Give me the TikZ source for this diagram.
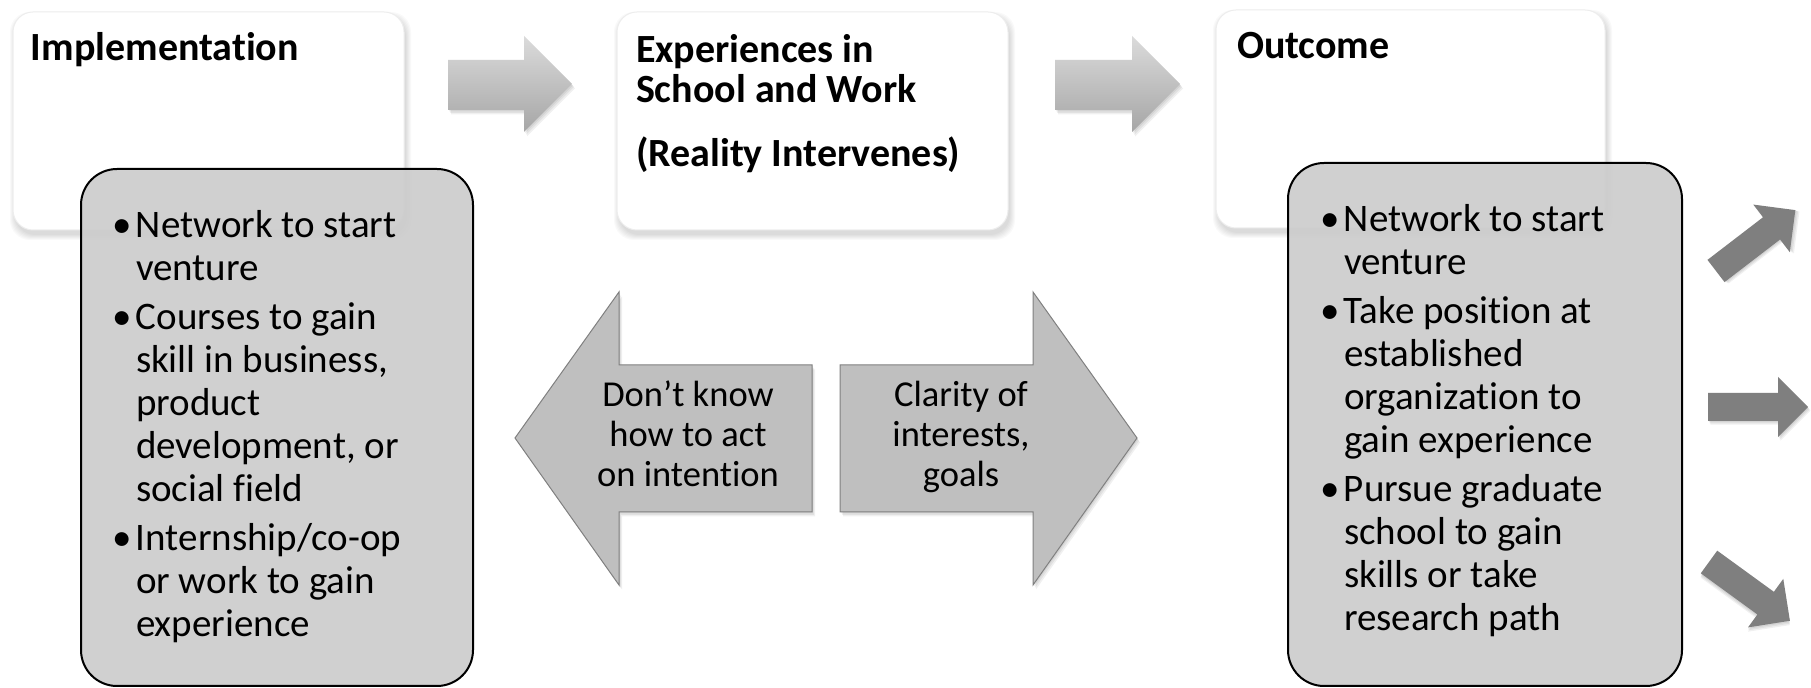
\documentclass[tikz,border=0pt]{standalone}
\usepackage{fontspec}
\setmainfont[Ligatures=NoCommon]{Carlito}
\definecolor{boxgray}{HTML}{CCCCCC}
\definecolor{arrgray}{HTML}{BFBFBF}
\definecolor{arredge}{HTML}{808080}
\definecolor{smallgray}{HTML}{7F7F7F}
\definecolor{gradtop}{HTML}{DBDBDB}
\definecolor{gradbot}{HTML}{A6A6A6}
\newcommand\softshadowbox[4]{%
  \foreach \i in {0,...,5}{\fill[black,opacity=0.022,rounded corners=10pt] (#1-\i+2,#2-\i+5) rectangle (#3+\i+2,#4+\i+5);}}
\tikzset{
  whitebox/.style={draw=black!7, fill=white, rounded corners=10pt, line width=0.5pt},
  graybox/.style={draw=black, fill=boxgray, fill opacity=0.92, rounded corners=18pt, line width=1pt},
  gradarrow/.style={top color=gradtop, bottom color=gradbot, draw=none},
  bigarrow/.style={fill=arrgray, draw=arredge, line width=0.5pt},
  smallarrow/.style={fill=smallgray, draw=none},
  shadowfill/.style={fill=black, opacity=0.06, draw=none},
  txt/.style={inner sep=0pt, outer sep=0pt},
}
\newcommand\bul{\leavevmode\llap{\makebox[12pt][l]{•}}}
\newcommand\bulfont{\fontsize{19.5pt}{21.5pt}\selectfont}
\newcommand\titfont{\fontsize{20pt}{20pt}\selectfont\bfseries}
\begin{document}
\begin{tikzpicture}[x=0.5pt,y=-0.5pt]
\useasboundingbox (0,0) rectangle (1811,688);
\fill[white] (0,0) rectangle (1811,688);

% white title boxes
\softshadowbox{13}{12}{404}{230}
\draw[whitebox] (13,12) rectangle (404,230);
\softshadowbox{617}{12}{1008}{230}
\draw[whitebox] (617,12) rectangle (1008,230);
\softshadowbox{1216}{10}{1605}{228}
\draw[whitebox] (1216,10) rectangle (1605,228);

% titles
\node[txt, anchor=base west, font=\titfont] (t1) at (31,61) {Implementation};
\node[txt, anchor=base west] (t2) at (636,63) {\parbox[t]{190pt}{\raggedright\titfont\setlength\parskip{12pt}Experiences in\\School and Work\par (Reality Intervenes)}};
\node[txt, anchor=base west, font=\titfont] (t3) at (1237,59) {Outcome};

% gradient arrows
\foreach \d in {1,2,3}{
\fill[shadowfill] (448+\d,60+\d*1.5) -- (524+\d,60+\d*1.5) -- (524+\d,36+\d*1.5) -- (572+\d,84+\d*1.5) -- (524+\d,132+\d*1.5) -- (524+\d,110+\d*1.5) -- (448+\d,110+\d*1.5) -- cycle;
\fill[shadowfill] (1055+\d,60+\d*1.5) -- (1132+\d,60+\d*1.5) -- (1132+\d,36+\d*1.5) -- (1180+\d,84+\d*1.5) -- (1132+\d,132+\d*1.5) -- (1132+\d,110+\d*1.5) -- (1055+\d,110+\d*1.5) -- cycle;
}
\path[gradarrow] (448,60) -- (524,60) -- (524,36) -- (572,84) -- (524,132) -- (524,110) -- (448,110) -- cycle;
\path[gradarrow] (1055,60) -- (1132,60) -- (1132,36) -- (1180,84) -- (1132,132) -- (1132,110) -- (1055,110) -- cycle;

% gray content boxes
\draw[graybox] (81,169) rectangle (473,686);
\draw[graybox] (1288,163) rectangle (1682,686);

\node[txt, anchor=base west] (b1) at (136,238) {\parbox[t]{170pt}{\raggedright\bulfont\setlength\parskip{3pt}%
\bul Network to start\\venture\par
\bul Courses to gain\\skill in business,\\product\\development, or\\social field\par
\bul Internship/co-op\\or work to gain\\experience}};
\node[txt, anchor=base west] (b2) at (1344,232) {\parbox[t]{170pt}{\raggedright\bulfont\setlength\parskip{3pt}%
\bul Network to start\\venture\par
\bul Take position at\\established\\organization to\\gain experience\par
\bul Pursue graduate\\school to gain\\skills or take\\research path}};

% double arrows
\foreach \d in {1,2,3}{
\fill[shadowfill] (515+\d,438+\d*1.5) -- (619+\d,292+\d*1.5) -- (619+\d,365+\d*1.5) -- (812+\d,365+\d*1.5) -- (812+\d,512+\d*1.5) -- (619+\d,512+\d*1.5) -- (619+\d,585+\d*1.5) -- cycle;
\fill[shadowfill] (840+\d,365+\d*1.5) -- (1033+\d,365+\d*1.5) -- (1033+\d,292+\d*1.5) -- (1137+\d,438+\d*1.5) -- (1033+\d,585+\d*1.5) -- (1033+\d,512+\d*1.5) -- (840+\d,512+\d*1.5) -- cycle;
}
\draw[bigarrow] (515,438) -- (619,292) -- (619,365) -- (812,365) -- (812,512) -- (619,512) -- (619,585) -- cycle;
\draw[bigarrow] (840,365) -- (1033,365) -- (1033,292) -- (1137,438) -- (1033,585) -- (1033,512) -- (840,512) -- cycle;
\node[txt, anchor=base] (a1) at (688,407) {\parbox[t]{100pt}{\centering\fontsize{18.25pt}{20pt}\selectfont Don’t know\\how to act\\on intention}};
\node[txt, anchor=base] (a2) at (961,407) {\parbox[t]{100pt}{\centering\fontsize{18.25pt}{20pt}\selectfont Clarity of\\interests,\\goals}};

% small outcome arrows
\foreach \ax/\ay/\ang in {1716/271/37.5, 1708/407/0, 1709/562/-36}{
  \begin{scope}[shift={(\ax,\ay)}, rotate=\ang]
    \foreach \d in {1,2,3}{
      \fill[shadowfill, shift={(\d*0.8,\d*1.2)}] (0,-14) -- (70,-14) -- (70,-30) -- (100,0) -- (70,30) -- (70,14) -- (0,14) -- cycle;}
    \fill[smallarrow] (0,-14) -- (70,-14) -- (70,-30) -- (100,0) -- (70,30) -- (70,14) -- (0,14) -- cycle;
  \end{scope}
}
\end{tikzpicture}
\end{document}
